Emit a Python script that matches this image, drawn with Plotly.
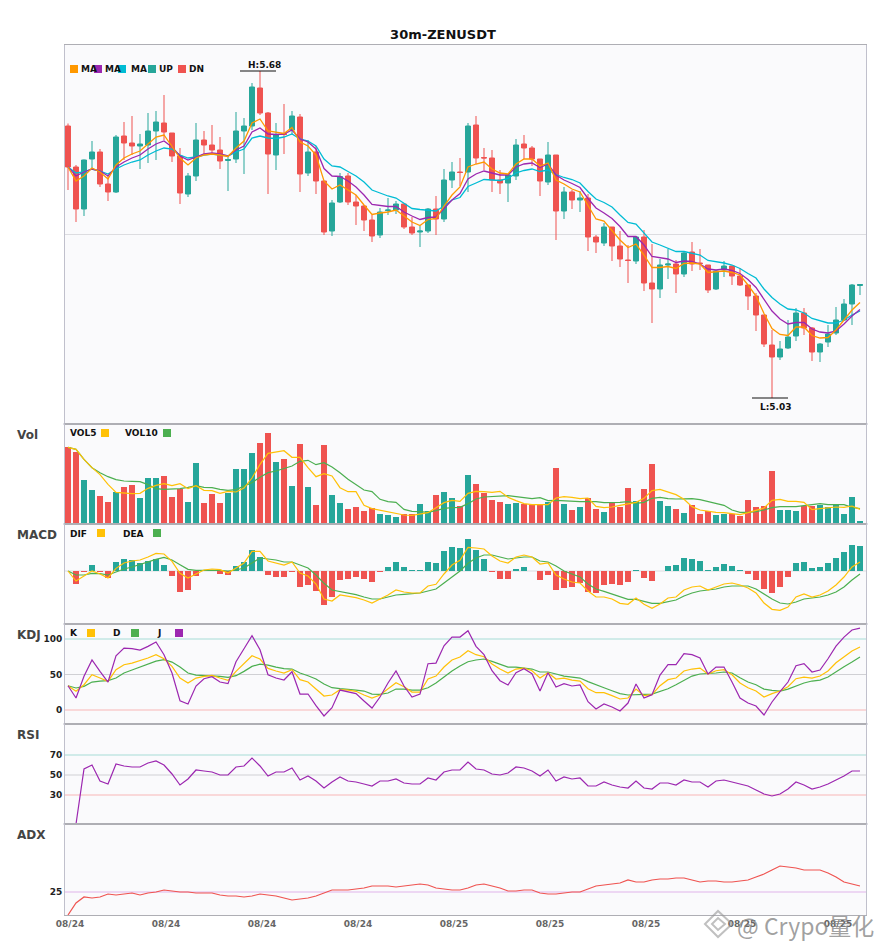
import plotly.graph_objects as go
from plotly.subplots import make_subplots

# candles, 100 bars of 30m
opens = [5.570,5.488,5.404,5.504,5.518,5.454,5.438,5.550,5.536,5.530,
         5.532,5.560,5.576,5.556,5.510,5.434,5.470,5.542,5.532,5.522,
         5.501,5.504,5.560,5.570,5.646,5.596,5.512,5.555,5.562,5.588,
         5.476,5.518,5.460,5.360,5.418,5.470,5.418,5.410,5.382,5.352,
         5.401,5.402,5.414,5.368,5.358,5.360,5.404,5.384,5.462,5.478,
         5.478,5.572,5.507,5.506,5.462,5.456,5.470,5.534,5.526,5.504,
         5.458,5.512,5.400,5.438,5.422,5.426,5.348,5.336,5.368,5.330,
         5.302,5.300,5.348,5.256,5.244,5.292,5.294,5.274,5.318,5.296,
         5.292,5.244,5.282,5.290,5.270,5.252,5.230,5.192,5.132,5.108,
         5.126,5.150,5.196,5.166,5.118,5.138,5.156,5.182,5.214,5.251]
closes = [5.488,5.404,5.502,5.518,5.454,5.438,5.548,5.536,5.530,5.534,
          5.560,5.578,5.558,5.510,5.436,5.470,5.542,5.532,5.522,5.500,
          5.503,5.560,5.570,5.648,5.596,5.514,5.552,5.553,5.590,5.474,
          5.518,5.460,5.358,5.416,5.469,5.418,5.410,5.382,5.350,5.398,
          5.402,5.414,5.368,5.356,5.360,5.404,5.384,5.462,5.478,5.477,
          5.570,5.506,5.506,5.462,5.456,5.472,5.532,5.526,5.504,5.460,
          5.512,5.400,5.438,5.422,5.426,5.348,5.338,5.368,5.330,5.304,
          5.301,5.348,5.256,5.244,5.292,5.294,5.274,5.316,5.294,5.295,
          5.242,5.280,5.290,5.270,5.252,5.230,5.192,5.134,5.108,5.124,
          5.148,5.196,5.166,5.118,5.134,5.154,5.182,5.214,5.252,5.253]
highs = [5.575,5.492,5.503,5.540,5.524,5.472,5.552,5.578,5.590,5.554,
         5.596,5.600,5.632,5.556,5.526,5.476,5.576,5.560,5.572,5.548,
         5.512,5.598,5.586,5.656,5.680,5.598,5.576,5.614,5.600,5.594,
         5.542,5.530,5.460,5.422,5.476,5.476,5.432,5.412,5.392,5.406,
         5.426,5.420,5.414,5.388,5.370,5.406,5.430,5.484,5.498,5.506,
         5.576,5.590,5.526,5.522,5.482,5.474,5.544,5.552,5.530,5.504,
         5.538,5.512,5.448,5.442,5.440,5.434,5.352,5.376,5.368,5.360,
         5.332,5.350,5.362,5.334,5.304,5.324,5.302,5.318,5.338,5.324,
         5.292,5.282,5.300,5.290,5.286,5.252,5.236,5.192,5.162,5.140,
         5.182,5.206,5.206,5.168,5.136,5.172,5.208,5.224,5.254,5.254]
lows = [5.442,5.378,5.390,5.485,5.448,5.420,5.436,5.502,5.512,5.484,
        5.496,5.502,5.542,5.498,5.414,5.428,5.460,5.514,5.512,5.484,
        5.440,5.496,5.474,5.562,5.592,5.434,5.482,5.514,5.552,5.438,
        5.470,5.434,5.352,5.350,5.416,5.412,5.372,5.360,5.338,5.346,
        5.392,5.394,5.364,5.352,5.328,5.356,5.352,5.378,5.446,5.450,
        5.438,5.494,5.482,5.438,5.434,5.418,5.462,5.504,5.490,5.430,
        5.452,5.342,5.384,5.404,5.398,5.320,5.316,5.330,5.300,5.288,
        5.256,5.294,5.240,5.176,5.226,5.264,5.236,5.268,5.280,5.282,
        5.236,5.242,5.268,5.252,5.250,5.202,5.160,5.128,5.026,5.102,
        5.124,5.140,5.152,5.100,5.098,5.128,5.152,5.180,5.172,5.232]

# the three moving averages
ma_fast = [5.488,5.460,5.470,5.486,5.478,5.464,5.492,5.506,5.514,5.520,
           5.534,5.548,5.552,5.530,5.506,5.492,5.506,5.512,5.514,5.512,
           5.509,5.526,5.540,5.576,5.584,5.560,5.557,5.555,5.567,5.538,
           5.530,5.512,5.460,5.444,5.452,5.442,5.432,5.412,5.393,5.396,
           5.398,5.402,5.390,5.378,5.371,5.383,5.385,5.410,5.432,5.448,
           5.488,5.494,5.498,5.484,5.476,5.474,5.494,5.504,5.504,5.490,
           5.496,5.462,5.454,5.444,5.438,5.410,5.384,5.380,5.362,5.342,
           5.327,5.334,5.312,5.287,5.287,5.289,5.285,5.295,5.296,5.294,
           5.277,5.278,5.280,5.277,5.272,5.252,5.230,5.195,5.165,5.153,
           5.151,5.168,5.168,5.151,5.146,5.147,5.162,5.182,5.202,5.217]
ma_mid = [5.488,5.470,5.478,5.484,5.480,5.470,5.488,5.498,5.506,5.512,
          5.524,5.534,5.540,5.528,5.510,5.502,5.508,5.514,5.516,5.514,
          5.510,5.522,5.530,5.558,5.566,5.554,5.553,5.554,5.562,5.544,
          5.538,5.524,5.485,5.470,5.469,5.460,5.448,5.432,5.413,5.411,
          5.409,5.409,5.398,5.390,5.383,5.387,5.388,5.405,5.422,5.435,
          5.464,5.474,5.480,5.476,5.472,5.472,5.488,5.494,5.496,5.487,
          5.494,5.472,5.462,5.455,5.447,5.425,5.406,5.396,5.385,5.369,
          5.349,5.349,5.332,5.309,5.306,5.304,5.297,5.300,5.299,5.294,
          5.284,5.282,5.284,5.281,5.275,5.263,5.247,5.224,5.200,5.184,
          5.174,5.177,5.177,5.164,5.158,5.156,5.160,5.174,5.190,5.203]
ma_slow = [5.488,5.476,5.478,5.484,5.480,5.474,5.484,5.492,5.498,5.502,
           5.512,5.520,5.526,5.524,5.512,5.506,5.508,5.512,5.514,5.512,
           5.510,5.518,5.524,5.546,5.550,5.546,5.545,5.548,5.554,5.544,
           5.540,5.530,5.504,5.490,5.488,5.479,5.470,5.458,5.442,5.436,
           5.430,5.426,5.416,5.405,5.403,5.402,5.400,5.410,5.422,5.427,
           5.449,5.456,5.463,5.462,5.461,5.465,5.476,5.481,5.484,5.479,
           5.482,5.473,5.467,5.463,5.456,5.439,5.424,5.417,5.408,5.392,
           5.377,5.374,5.355,5.338,5.332,5.326,5.319,5.319,5.315,5.312,
           5.301,5.299,5.296,5.292,5.285,5.275,5.266,5.244,5.227,5.214,
           5.204,5.202,5.196,5.185,5.180,5.176,5.176,5.182,5.192,5.200]

volume = [230,215,131,101,83,65,95,110,116,77,137,137,143,80,104,65,182,62,89,62,
          92,164,164,212,242,272,185,194,113,239,110,56,236,86,62,44,50,38,47,29,
          26,20,29,29,59,38,86,95,77,53,146,119,92,71,65,59,62,59,56,59,
          65,167,59,41,50,77,44,35,62,50,107,68,104,179,68,53,44,32,56,29,
          38,26,29,29,23,71,50,53,158,41,41,38,53,53,56,50,56,29,80,8]
vol5 = [230,224,194,169,148,119,95,92,91,92,107,116,121,115,121,106,115,101,100,92,
        98,96,108,138,179,212,215,220,200,200,169,142,151,144,109,97,97,56,46,41,
        38,31,27,26,31,34,49,64,71,68,92,98,97,95,98,80,70,61,58,58,
        58,78,82,80,76,78,53,49,51,56,60,65,77,100,104,97,88,74,52,42,
        38,35,34,30,28,34,41,48,71,74,68,68,65,43,46,48,51,50,54,44]
vol10 = [230,224,194,169,154,142,133,129,128,127,118,106,104,104,106,110,115,110,109,104,
         101,103,114,124,140,154,159,166,174,188,191,178,184,171,154,134,117,102,97,74,
         67,65,44,38,37,35,40,47,49,50,61,75,81,83,83,85,82,79,76,79,
         70,71,69,67,67,67,67,64,64,65,67,62,65,77,80,76,75,76,76,73,
         67,61,56,42,35,35,37,42,49,52,52,52,55,58,61,58,58,58,50,46]

# macd is kept in thousandths
macd_hist = [0,-39,-3,18,-3,-21,27,36,33,24,30,36,18,-15,-63,-57,-15,0,3,-9,
             -12,15,27,63,42,-12,-18,-18,-3,-48,-42,-60,-102,-78,-27,-24,-18,-24,-33,-3,
             12,27,12,3,3,27,24,60,72,69,96,63,36,-3,-24,-24,6,12,0,-27,
             -12,-57,-51,-48,-36,-63,-66,-42,-39,-42,-33,3,-21,-30,0,15,18,39,36,30,
             3,12,21,15,3,-9,-27,-54,-66,-48,-18,24,27,9,12,24,39,57,78,75]
dif = [0,-30,-15,0,-9,-21,8,24,30,33,42,53,51,29,-7,-21,-9,3,6,4,
       -6,9,24,59,59,30,24,18,27,-6,-15,-39,-84,-90,-72,-76,-80,-87,-96,-84,
       -72,-57,-63,-66,-66,-45,-40,-9,18,32,71,69,66,45,30,24,42,48,42,21,
       24,-12,-24,-33,-36,-60,-78,-78,-84,-97,-100,-81,-100,-112,-99,-81,-78,-57,-48,-45,
       -57,-48,-39,-36,-42,-51,-66,-96,-115,-118,-108,-78,-69,-78,-72,-60,-42,-18,12,27]
dea = [0,-12,-12,-7,-8,-12,-3,6,12,20,27,35,41,33,19,5,2,2,3,2,
       0,3,9,24,39,36,33,27,27,18,9,-12,-37,-57,-62,-65,-71,-78,-84,-84,
       -78,-72,-70,-69,-66,-60,-54,-36,-18,0,23,39,48,48,42,36,39,42,42,30,
       27,15,0,-9,-18,-39,-54,-61,-69,-78,-85,-85,-91,-97,-97,-93,-87,-75,-66,-60,
       -57,-54,-48,-45,-45,-45,-54,-69,-84,-96,-99,-93,-84,-81,-78,-72,-63,-48,-27,-9]

kdj_k = [34.2,26.3,35.6,49.7,45.0,40.3,56.7,63.8,66.1,69.4,73.2,77.9,72.2,61.4,45.0,38.0,45.0,47.4,48.8,45.0,
         41.7,54.4,64.7,76.4,71.8,58.6,54.9,52.1,56.7,42.7,39.4,29.5,19.7,21.1,28.6,28.1,26.3,21.1,16.9,21.1,
         29.5,38.5,32.8,25.3,25.3,43.6,47.8,60.5,70.4,74.6,83.5,77.9,75.0,64.7,57.7,52.1,57.7,59.1,55.3,45.0,
         52.5,43.6,45.0,42.2,40.8,30.0,24.4,24.4,20.2,15.5,16.9,29.5,20.2,21.6,34.2,42.7,45.0,54.9,57.7,59.1,
         50.7,55.3,56.7,49.7,38.0,31.4,26.7,18.3,23.0,26.7,32.8,44.1,46.4,45.0,47.8,54.9,66.6,75.0,83.0,88.6]
kdj_d = [34.2,31.0,33.3,39.4,40.8,41.3,45.0,52.1,56.3,60.5,64.7,68.9,70.8,67.5,60.5,52.1,49.2,48.8,48.8,47.4,
         46.0,48.3,54.4,61.4,64.7,63.3,60.5,58.2,57.7,52.1,48.3,43.6,36.6,31.4,30.0,29.5,28.1,26.7,22.5,22.0,
         23.9,29.5,29.5,28.1,28.1,31.4,38.0,46.4,54.9,61.9,68.0,70.4,71.8,68.5,64.3,60.5,60.5,59.1,57.7,53.5,
         53.5,50.7,47.8,46.4,45.0,39.9,35.2,31.4,27.2,23.0,21.1,22.0,22.0,22.5,25.8,30.0,35.6,42.2,47.8,50.7,
         51.1,52.1,53.5,52.1,45.5,39.4,35.6,29.5,27.7,26.7,29.5,34.2,38.0,40.8,42.2,46.4,53.9,61.0,67.5,74.6]
kdj_j = [34.2,16.9,47.4,70.4,54.4,39.4,76.4,87.2,86.3,84.4,89.6,95.7,77.9,52.1,13.1,8.4,33.8,44.1,46.9,39.4,
         37.1,68.0,86.3,104.6,84.9,49.7,45.0,42.2,53.9,22.5,22.5,6.1,-8.4,3.3,28.1,25.8,23.0,12.7,2.8,18.3,
         38.0,54.9,33.8,18.3,22.5,65.2,66.1,90.5,102.7,102.7,111.6,89.6,77.9,55.3,41.3,35.2,52.5,58.2,51.1,26.7,
         52.5,32.4,37.1,33.8,35.2,11.7,1.4,8.4,4.2,-1.4,9.8,36.6,16.9,21.6,49.2,63.8,63.8,79.3,77.9,73.2,
         50.7,60.5,60.5,39.4,16.9,9.8,5.6,-7.0,11.3,25.8,39.4,62.4,65.2,53.5,56.3,72.2,90.0,102.7,112.6,115.4]

rsi = [None,1,56,60,44,41,61,59,58,58,62,64,60,51,40,46,55,54,53,50,
       50,58,59,67,59,49,53,53,57,45,49,44,37,43,48,44,43,41,39,44,
       44,46,42,41,41,47,45,53,55,55,63,56,55,51,50,52,58,57,54,49,
       55,44,48,46,47,39,39,43,40,38,37,44,37,36,42,42,40,45,43,43,
       38,44,45,43,41,39,35,31,29,31,36,43,40,36,38,41,45,49,54,54]
adx = [2,14,20,19,20,23,22,23,24,22,24,25,27,26,25,25,24,24,24,22,
       21,21,20,21,23,22,21,19,17,18,19,21,24,27,27,27,28,29,31,31,
       31,30,31,32,33,32,29,28,27,27,29,32,33,31,29,26,26,27,27,24,
       23,23,24,25,25,28,31,32,33,34,37,35,35,37,38,38,39,39,37,35,
       36,36,35,35,36,37,40,43,47,51,50,49,47,47,47,44,40,35,33,31]

tick_labels = ["08/24", "08/24", "08/24", "08/24", "08/25", "08/25", "08/25", "08/25", "08/25"]

# colours
UP = "#26A69A"
DN = "#EF5350"
ORANGE = "#FF9800"
PURPLE = "#9C27B0"
CYAN = "#00BCD4"
YELLOW = "#FFC107"
GREEN = "#4CAF50"
FONT = "DejaVu Sans"

x = list(range(len(closes)))
vol_colors = [UP if c >= o else DN for o, c in zip(opens, closes)]
hist_colors = [UP if v >= 0 else DN for v in macd_hist]

fig = make_subplots(rows=6, cols=1, shared_xaxes=True, vertical_spacing=0,
                    row_heights=[379, 100, 100, 100, 100, 91])

fig.add_trace(go.Candlestick(x=x, open=opens, high=highs, low=lows, close=closes,
                             whiskerwidth=0,
                             increasing=dict(line=dict(color=UP, width=1), fillcolor=UP),
                             decreasing=dict(line=dict(color=DN, width=1), fillcolor=DN)), row=1, col=1)
for vals, col in [(ma_slow, CYAN), (ma_mid, PURPLE), (ma_fast, ORANGE)]:
    fig.add_trace(go.Scatter(x=x, y=vals, mode="lines", line=dict(color=col, width=1.3)), row=1, col=1)

fig.add_trace(go.Bar(x=x, y=volume, width=0.75, marker=dict(color=vol_colors, line_width=0)), row=2, col=1)
fig.add_trace(go.Scatter(x=x, y=vol10, mode="lines", line=dict(color=GREEN, width=1.2)), row=2, col=1)
fig.add_trace(go.Scatter(x=x, y=vol5, mode="lines", line=dict(color=YELLOW, width=1.2)), row=2, col=1)

fig.add_trace(go.Bar(x=x, y=macd_hist, width=0.75, marker=dict(color=hist_colors, line_width=0)), row=3, col=1)
fig.add_trace(go.Scatter(x=x, y=dea, mode="lines", line=dict(color=GREEN, width=1.2)), row=3, col=1)
fig.add_trace(go.Scatter(x=x, y=dif, mode="lines", line=dict(color=YELLOW, width=1.2)), row=3, col=1)

fig.add_trace(go.Scatter(x=x, y=kdj_d, mode="lines", line=dict(color=GREEN, width=1.2)), row=4, col=1)
fig.add_trace(go.Scatter(x=x, y=kdj_k, mode="lines", line=dict(color=YELLOW, width=1.2)), row=4, col=1)
fig.add_trace(go.Scatter(x=x, y=kdj_j, mode="lines", line=dict(color=PURPLE, width=1.2)), row=4, col=1)

fig.add_trace(go.Scatter(x=x, y=rsi, mode="lines", line=dict(color=PURPLE, width=1.2)), row=5, col=1)
fig.add_trace(go.Scatter(x=x, y=adx, mode="lines", line=dict(color=DN, width=1.2)), row=6, col=1)

# horizontal guide lines
guides = [(1, 5.353, "#dcdce0"), (3, 0, "#dcdce0"),
          (4, 100, "#a5dcd5"), (4, 50, "#d0d0d4"), (4, 0, "#f7b5b5"),
          (5, 70, "#a5dcd5"), (5, 50, "#d0d0d4"), (5, 30, "#f7b5b5"),
          (6, 25, "#e0b4ea")]
for row, val, col in guides:
    fig.add_hline(y=val, line=dict(color=col, width=1.2), layer="below", row=row, col=1)

fig.update_xaxes(range=[-0.375, 99.75], showgrid=False, zeroline=False, showline=True, mirror=True,
                 linecolor="#aeaeb4", linewidth=1, ticks="", showticklabels=False, rangeslider_visible=False)
fig.update_xaxes(showticklabels=True, tickvals=[0.25 + 12 * i for i in range(9)], ticktext=tick_labels,
                 tickfont=dict(family=FONT, size=9, color="#666666", weight="bold"), row=6, col=1)
fig.update_yaxes(showgrid=False, zeroline=False, showline=True, mirror=True, linecolor="#c0c0cc",
                 linewidth=1, ticks="", showticklabels=False)
fig.update_yaxes(range=[4.974, 5.732], row=1, col=1)
fig.update_yaxes(range=[0, 300], row=2, col=1)
fig.update_yaxes(range=[-159, 141], row=3, col=1)
tick_font = dict(family=FONT, size=9, color="#222222", weight="bold")
fig.update_yaxes(range=[-19.7, 121.1], showticklabels=True, tickvals=[0, 50, 100], tickfont=tick_font, row=4, col=1)
fig.update_yaxes(range=[1, 101], showticklabels=True, tickvals=[30, 50, 70], tickfont=tick_font, row=5, col=1)
fig.update_yaxes(range=[2, 93], showticklabels=True, tickvals=[25], tickfont=tick_font, row=6, col=1)


# page pixels to paper coordinates
def px(v):
    return (v - 65) / 801


def py(v):
    return (915 - v) / 870


def label(text, x0, y0, size=9, color="#111111", anchor="left", weight="bold", family=FONT):
    # annotations pad their text by a pixel
    fig.add_annotation(text=text, xref="paper", yref="paper", x=px(x0 - 1), y=py(y0), showarrow=False,
                       xanchor=anchor, yanchor="middle", borderpad=0,
                       font=dict(family=family, size=size, color=color, weight=weight))


def swatch(x0, y0, col):
    fig.add_shape(type="rect", xref="paper", yref="paper", x0=px(x0), x1=px(x0 + 8),
                  y0=py(y0 - 4), y1=py(y0 + 4), fillcolor=col, line_width=0)


# small nubs on the frame at each panel border
for y0 in [424, 524, 624, 724, 824]:
    for x0, x1 in [(63, 65), (866, 868)]:
        fig.add_shape(type="line", xref="paper", yref="paper", x0=px(x0), x1=px(x1), y0=py(y0), y1=py(y0),
                      line=dict(color="#c0c0cc", width=1))

# panel names
for name, y0 in [("Vol", 435), ("MACD", 535), ("KDJ", 635), ("RSI", 735), ("ADX", 835)]:
    label(name, 17, y0, size=12, color="#444444")

# legends
for text, x0 in [("MA", 81), ("MA", 105), ("MA", 131), ("UP", 159), ("DN", 189)]:
    label(text, x0, 69)
for col, x0 in [(ORANGE, 70), (PURPLE, 94), (CYAN, 118), (UP, 148), (DN, 178)]:
    swatch(x0, 69, col)
label("VOL5", 70, 433)
swatch(101, 433, YELLOW)
label("VOL10", 125, 433)
swatch(163, 433, GREEN)
label("DIF", 70, 534)
swatch(97, 533, YELLOW)
label("DEA", 123, 534)
swatch(153, 533, GREEN)
label("K", 70, 633)
swatch(87, 633, YELLOW)
label("D", 113, 633)
swatch(131, 633, GREEN)
label("J", 157, 633)
swatch(175, 633, PURPLE)

# high and low markers
hi = highs.index(max(highs))
lo = lows.index(min(lows))
fig.add_shape(type="line", xref="x", yref="y", x0=hi - 2.5, x1=hi + 2, y0=highs[hi], y1=highs[hi],
              line=dict(color="#111111", width=1.2))
fig.add_shape(type="line", xref="x", yref="y", x0=lo - 2.5, x1=lo + 2, y0=lows[lo], y1=lows[lo],
              line=dict(color="#111111", width=1.2))
fig.add_annotation(text=f"H:{highs[hi]:.2f}", xref="x", yref="y", x=hi + 0.55, y=highs[hi], yshift=6,
                   showarrow=False, font=dict(family=FONT, size=9, color="#111111", weight="bold"))
fig.add_annotation(text=f"L:{lows[lo]:.2f}", xref="x", yref="y", x=lo + 0.55, y=lows[lo], yshift=-9,
                   showarrow=False, font=dict(family=FONT, size=9, color="#111111", weight="bold"))

# watermark
fig.add_shape(type="path", xref="paper", yref="paper", line=dict(color="rgba(150,150,150,0.6)", width=2),
              path=f"M {px(705)} {py(924)} L {px(718)} {py(911)} L {px(732)} {py(924)} L {px(718)} {py(937)} Z")
fig.add_shape(type="path", xref="paper", yref="paper", line=dict(color="rgba(150,150,150,0.6)", width=2),
              path=f"M {px(712)} {py(924)} L {px(718)} {py(918)} L {px(725)} {py(924)} L {px(718)} {py(930)} Z")
label("@ Crypo量化", 737, 925, size=23, color="rgba(130,130,130,0.75)", weight="normal", family="Noto Sans CJK SC")

fig.update_layout(width=869, height=934, margin=dict(l=57, r=11, t=37, b=27), showlegend=False,
                  paper_bgcolor="white", plot_bgcolor="#fafafc", bargap=0, boxgap=0.38, boxgroupgap=0,
                  title=dict(text="30m-ZENUSDT", x=435 / 869, y=1 - 26 / 934, xanchor="center", yanchor="middle",
                             font=dict(family=FONT, size=13, color="#111111", weight="bold")))

fig.write_html("out.html")
